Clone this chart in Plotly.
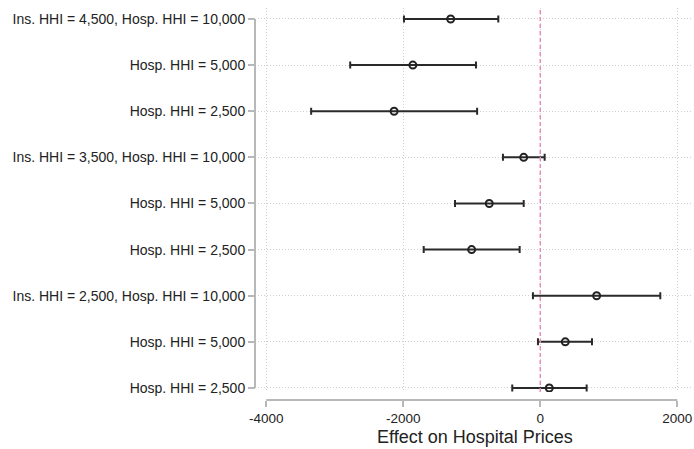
import plotly.graph_objects as go

labels = [
    "Ins. HHI = 4,500, Hosp. HHI = 10,000",
    "Hosp. HHI = 5,000",
    "Hosp. HHI = 2,500",
    "Ins. HHI = 3,500, Hosp. HHI = 10,000",
    "Hosp. HHI = 5,000",
    "Hosp. HHI = 2,500",
    "Ins. HHI = 2,500, Hosp. HHI = 10,000",
    "Hosp. HHI = 5,000",
    "Hosp. HHI = 2,500",
]
estimate = [-1308, -1860, -2134, -242, -745, -1002, 823, 365, 131]
ci_low = [-1990, -2775, -3345, -545, -1245, -1702, -107, -34, -409]
ci_high = [-613, -939, -922, 64, -242, -301, 1752, 755, 677]
x_ticks = [-4000, -2000, 0, 2000]

rows = list(range(len(labels)))
err_plus = [h - e for h, e in zip(ci_high, estimate)]
err_minus = [e - l for e, l in zip(estimate, ci_low)]

W, H = 694, 449
ml, mr, mt, mb = 255, 2, 8, 49
inner_w = W - ml - mr
inner_h = H - mt - mb

fig = go.Figure()
fig.add_trace(go.Scatter(
    x=estimate, y=rows, mode="markers",
    marker=dict(symbol="circle-open", size=7, color="#222222", line=dict(width=2, color="#222222")),
    error_x=dict(type="data", symmetric=False, array=err_plus, arrayminus=err_minus,
                 color="#2a2a2a", thickness=2, width=3.5),
    showlegend=False, hoverinfo="skip",
))

fig.add_vline(x=0, line=dict(color="#e58fb8", width=1.5, dash="4px,3px"))

axis_col = "#b8b8b8"
# y axis line spanning first to last row
fig.add_shape(type="line", xref="paper", yref="y", x0=0, x1=0, y0=rows[0], y1=rows[-1],
              line=dict(color=axis_col, width=2))
# x axis line spanning tick range
fig.add_shape(type="line", xref="x", yref="paper", x0=x_ticks[0], x1=x_ticks[-1], y0=0, y1=0,
              line=dict(color=axis_col, width=2))

grid = dict(showgrid=True, gridcolor="#cfcfcf", griddash="1px,2px", gridwidth=1)

fig.update_layout(
    width=W, height=H,
    margin=dict(l=ml, r=mr, t=mt, b=mb),
    paper_bgcolor="white", plot_bgcolor="white",
    font=dict(family="Liberation Sans, Arial, sans-serif", size=13, color="#222222"),
    xaxis=dict(
        domain=[3 / inner_w, 1], anchor="free", position=0,
        range=[-4121, 2215], tickvals=x_ticks, ticktext=[str(t) for t in x_ticks],
        showline=False, zeroline=False, **grid,
        ticks="outside", ticklen=6, tickwidth=1.5, tickcolor=axis_col,
        tickfont=dict(size=13.5),
        title=dict(text="Effect on Hospital Prices", font=dict(size=18), standoff=5),
    ),
    yaxis=dict(
        domain=[8 / inner_h, 1], anchor="free", position=0,
        range=[8.087, -0.238], tickvals=rows, ticktext=labels,
        showline=False, zeroline=False, **grid,
        ticks="outside", ticklen=7, tickwidth=1.5, tickcolor=axis_col,
        tickfont=dict(size=14),
    ),
)

fig.write_html("out.html")
